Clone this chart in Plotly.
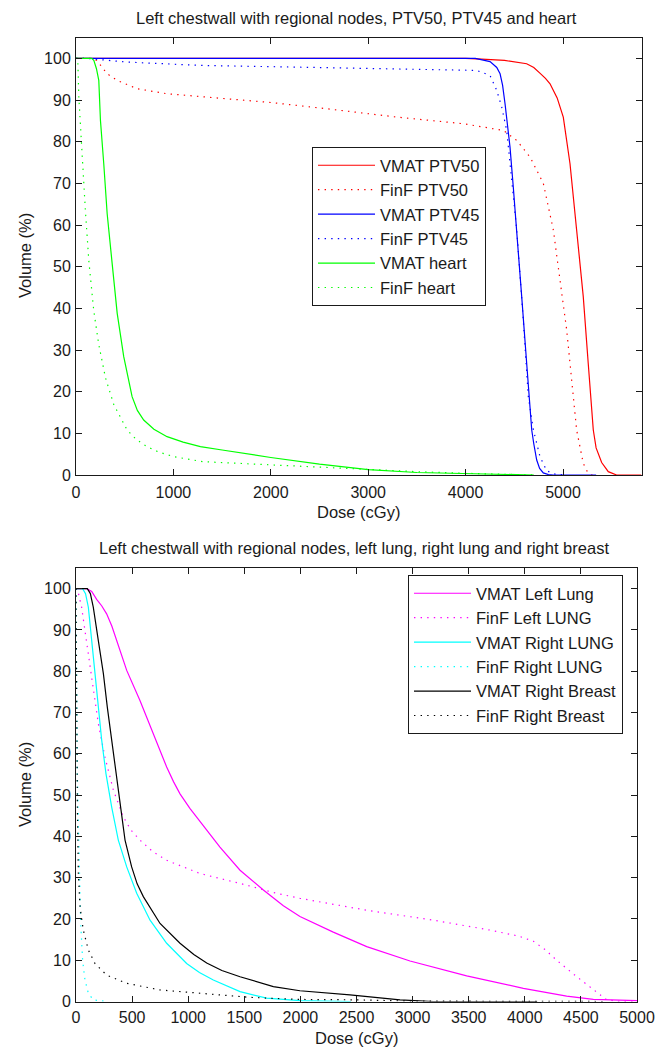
import plotly.graph_objects as go

# ---------------- Top panel data (dose cGy, volume %) ----------------
vmat_ptv50_dose = [0, 4000, 4166, 4400, 4627, 4700, 4760, 4820, 4867, 4940, 5003, 5040, 5072, 5140, 5208, 5259, 5311, 5340, 5397, 5465, 5550, 5806]
vmat_ptv50_vol = [100, 100, 99.8, 99.5, 98.7, 97.8, 96.5, 95.2, 93.9, 90.5, 85.9, 80.5, 74.7, 58.8, 42.8, 26.8, 10.8, 6.5, 3.0, 0.8, 0, 0]

finf_ptv50_dose = [0, 150, 214, 260, 320, 423, 628, 935, 1243, 2000, 2610, 3294, 3977, 4388, 4525, 4662, 4798, 4901, 4969, 5038, 5089, 5140, 5208, 5250, 5300]
finf_ptv50_vol = [100, 100, 99.5, 98.0, 96.3, 94.7, 92.7, 91.5, 90.9, 89.4, 87.8, 85.9, 84.3, 82.7, 80.3, 76.3, 70.0, 58.8, 46.8, 34.8, 22.8, 10.8, 2.8, 0.8, 0]

vmat_ptv45_dose = [0, 4100, 4251, 4320, 4354, 4380, 4405, 4430, 4456, 4490, 4525, 4576, 4627, 4679, 4700, 4730, 4760, 4798, 4850, 4900, 5340]
vmat_ptv45_vol = [100, 100, 99.2, 97.8, 96.3, 93.5, 89.1, 84.0, 78.7, 69.0, 58.8, 42.8, 26.8, 10.8, 7.5, 3.6, 1.6, 0.5, 0.1, 0, 0]

finf_ptv45_dose = [0, 100, 524, 1277, 2000, 2610, 3500, 4115, 4251, 4320, 4371, 4422, 4474, 4525, 4590, 4644, 4696, 4764, 4833, 4920, 5020]
finf_ptv45_vol = [100, 100, 99.1, 98.3, 98.0, 97.7, 97.4, 97.1, 95.9, 92.3, 88.3, 82.7, 70.7, 58.8, 38.0, 18.8, 10.8, 4.4, 1.0, 0.2, 0]

vmat_heart_dose = [0, 160, 183, 210, 234, 251, 285, 320, 371, 423, 490, 576, 630, 695, 800, 935, 1100, 1277, 1500, 2000, 2500, 3000, 3500, 4000, 4500, 4700]
vmat_heart_vol = [100, 100, 99.5, 97.5, 94.7, 85.1, 74.7, 62.7, 50.8, 38.8, 28.4, 18.8, 15.5, 13.2, 11.0, 9.2, 7.9, 6.8, 6.0, 4.2, 2.6, 1.3, 0.6, 0.3, 0.1, 0]

finf_heart_dose = [0, 18, 29, 46, 63, 97, 132, 183, 234, 303, 388, 525, 620, 730, 850, 1003, 1300, 2000, 2500, 3000, 3500, 4000, 4700]
finf_heart_vol = [100, 100, 90.7, 83.2, 75.2, 63.2, 51.3, 39.3, 31.3, 23.3, 16.9, 10.8, 8.5, 6.8, 5.5, 4.4, 3.2, 2.4, 1.8, 1.3, 0.8, 0.4, 0]

# ---------------- Bottom panel data ----------------
vmat_llung_dose = [0, 95, 140, 184, 230, 273, 320, 362, 452, 570, 689, 808, 870, 927, 1015, 1105, 1283, 1462, 1670, 1848, 1996, 2293, 2591, 2977, 3482, 3987, 4373, 4611, 4965, 5000]
vmat_llung_vol = [100, 100, 99.3, 97.4, 95.8, 93.9, 90.9, 87.4, 80.2, 72.9, 64.8, 56.8, 53.2, 50.3, 46.8, 43.6, 37.4, 31.8, 27.0, 23.2, 20.6, 16.8, 13.3, 9.8, 6.2, 3.2, 1.3, 0.5, 0.2, 0.2]

finf_llung_dose = [0, 12, 50, 80, 110, 154, 199, 258, 333, 422, 490, 570, 680, 808, 1105, 1462, 1788, 1996, 2591, 3185, 3690, 3950, 4076, 4180, 4284, 4463, 4611, 4730, 4849, 5000]
finf_llung_vol = [100, 100, 95.5, 89.9, 83.4, 75.3, 67.3, 59.2, 51.2, 44.7, 41.5, 39.1, 36.4, 34.2, 31.0, 28.6, 26.2, 25.0, 22.1, 19.7, 17.3, 15.8, 14.6, 12.6, 10.0, 6.0, 2.8, 0.4, 0, 0]

vmat_rlung_dose = [0, 59, 85, 110, 140, 169, 199, 229, 267, 318, 377, 452, 541, 660, 808, 986, 1100, 1224, 1462, 1699, 1996, 2450]
vmat_rlung_vol = [100, 100, 98.8, 95.5, 87.4, 79.4, 71.3, 63.3, 55.2, 47.1, 39.1, 32.6, 26.2, 19.7, 14.1, 9.2, 7.0, 5.2, 2.4, 0.8, 0.2, 0]

finf_rlung_dose = [0, 3, 6, 12, 21, 30, 42, 59, 80, 110, 154, 273]
finf_rlung_vol = [100, 88, 73, 55.2, 43.1, 31.0, 18.9, 10.0, 5.2, 2.0, 0.4, 0]

vmat_rbreast_dose = [0, 101, 128, 154, 199, 244, 279, 318, 357, 392, 437, 496, 545, 600, 749, 927, 1050, 1165, 1300, 1462, 1759, 1996, 2442, 2888, 3185, 4110]
vmat_rbreast_vol = [100, 100, 98.8, 95.5, 87.4, 79.4, 71.3, 63.3, 55.2, 47.1, 39.1, 32.6, 28.5, 25.4, 18.9, 14.1, 11.4, 9.3, 7.5, 6.0, 3.6, 2.6, 1.6, 0.4, 0, 0]

finf_rbreast_dose = [0, 3, 6, 12, 21, 36, 65, 110, 169, 273, 452, 749, 1105, 1551, 1996, 2500, 3000, 4100, 4730]
finf_rbreast_vol = [100, 85, 61.6, 47.1, 31.0, 22.9, 17.3, 12.5, 9.2, 6.4, 4.4, 2.8, 2.0, 1.0, 0.5, 0.4, 0.1, 0, 0]

y_ticks = [0, 10, 20, 30, 40, 50, 60, 70, 80, 90, 100]
top_x_ticks = [0, 1000, 2000, 3000, 4000, 5000]
bot_x_ticks = [0, 500, 1000, 1500, 2000, 2500, 3000, 3500, 4000, 4500, 5000]

top_title = "Left chestwall with regional nodes, PTV50, PTV45 and heart"
bot_title = "Left chestwall with regional nodes, left lung, right lung and right breast"

FONT = "Liberation Sans, Arial, sans-serif"
DOT = "1.4px,5.2px"
INK = "#1a1a1a"

fig = go.Figure()

top_series = [
    ("VMAT PTV50", vmat_ptv50_dose, vmat_ptv50_vol, "#FF0000", "solid"),
    ("FinF PTV50", finf_ptv50_dose, finf_ptv50_vol, "#FF0000", DOT),
    ("VMAT PTV45", vmat_ptv45_dose, vmat_ptv45_vol, "#0000FF", "solid"),
    ("FinF PTV45", finf_ptv45_dose, finf_ptv45_vol, "#0000FF", DOT),
    ("VMAT heart", vmat_heart_dose, vmat_heart_vol, "#00FF00", "solid"),
    ("FinF heart", finf_heart_dose, finf_heart_vol, "#00FF00", DOT),
]
for name, x, y, c, d in top_series:
    fig.add_trace(go.Scatter(x=x, y=y, name=name, mode="lines",
                             line=dict(color=c, width=1.2, dash=d),
                             xaxis="x", yaxis="y", legend="legend"))

bot_series = [
    ("VMAT Left Lung", vmat_llung_dose, vmat_llung_vol, "#FF00FF", "solid"),
    ("FinF Left LUNG", finf_llung_dose, finf_llung_vol, "#FF00FF", DOT),
    ("VMAT Right LUNG", vmat_rlung_dose, vmat_rlung_vol, "#00FFFF", "solid"),
    ("FinF Right LUNG", finf_rlung_dose, finf_rlung_vol, "#00FFFF", DOT),
    ("VMAT Right Breast", vmat_rbreast_dose, vmat_rbreast_vol, "#000000", "solid"),
    ("FinF Right Breast", finf_rbreast_dose, finf_rbreast_vol, "#000000", DOT),
]
for name, x, y, c, d in bot_series:
    fig.add_trace(go.Scatter(x=x, y=y, name=name, mode="lines",
                             line=dict(color=c, width=1.2, dash=d),
                             xaxis="x2", yaxis="y2", legend="legend2"))

# The page body has an 8px default margin, so the figure is sized to fill
# the rest of the 663x1050 window and positions are given in window pixels.
OFF = 8
W, H = 663 - OFF, 1050 - OFF

def px_x(p):
    return (p - OFF) / W

def px_y(p):
    return 1 - (p - OFF) / H

axis_common = dict(showline=True, linecolor=INK, linewidth=1, mirror="ticks",
                   ticks="inside", ticklen=6, tickwidth=1, tickcolor=INK,
                   showgrid=False, zeroline=False, automargin=False,
                   tickfont=dict(family=FONT, size=16, color=INK))

legend_common = dict(xanchor="left", yanchor="top", bgcolor="white",
                     bordercolor=INK, borderwidth=1,
                     font=dict(family=FONT, size=16.5, color=INK),
                     itemwidth=57, tracegroupgap=0)

fig.update_layout(
    width=W, height=H, autosize=False,
    margin=dict(l=0, r=0, t=0, b=0, pad=0, autoexpand=False),
    paper_bgcolor="white", plot_bgcolor="white",
    font=dict(family=FONT, color=INK),
    xaxis=dict(domain=[px_x(76), px_x(641.5)], range=[0, 5806], tickvals=top_x_ticks,
               anchor="y", ticklabelstandoff=3, **axis_common),
    yaxis=dict(domain=[px_y(475), px_y(37.5)], range=[0, 105], tickvals=y_ticks,
               anchor="x", ticklabelstandoff=1, **axis_common),
    xaxis2=dict(domain=[px_x(76), px_x(637)], range=[0, 5000], tickvals=bot_x_ticks,
                anchor="y2", ticklabelstandoff=1, **axis_common),
    yaxis2=dict(domain=[px_y(1001.5), px_y(568)], range=[0, 105], tickvals=y_ticks,
                anchor="x2", ticklabelstandoff=1, **axis_common),
    legend=dict(x=px_x(312), y=px_y(147), **legend_common),
    legend2=dict(x=px_x(408), y=px_y(575), **legend_common),
    showlegend=True,
)

ann_font = dict(family=FONT, size=16.5, color=INK)
annotations = [
    dict(text=top_title, x=px_x(356), y=px_y(18), xref="paper", yref="paper",
         showarrow=False, xanchor="center", yanchor="middle", font=ann_font),
    dict(text="Dose (cGy)", x=px_x(358.75), y=px_y(512), xref="paper", yref="paper",
         showarrow=False, xanchor="center", yanchor="middle", font=ann_font),
    dict(text="Volume (%)", x=px_x(25), y=px_y(256), xref="paper", yref="paper",
         showarrow=False, xanchor="center", yanchor="middle", textangle=-90, font=ann_font),
    dict(text=bot_title, x=px_x(354), y=px_y(548), xref="paper", yref="paper",
         showarrow=False, xanchor="center", yanchor="middle", font=ann_font),
    dict(text="Dose (cGy)", x=px_x(356.5), y=px_y(1038), xref="paper", yref="paper",
         showarrow=False, xanchor="center", yanchor="middle", font=ann_font),
    dict(text="Volume (%)", x=px_x(25), y=px_y(785), xref="paper", yref="paper",
         showarrow=False, xanchor="center", yanchor="middle", textangle=-90, font=ann_font),
]
fig.update_layout(annotations=annotations)

fig.write_html("out.html", config={"responsive": False, "displayModeBar": False})
